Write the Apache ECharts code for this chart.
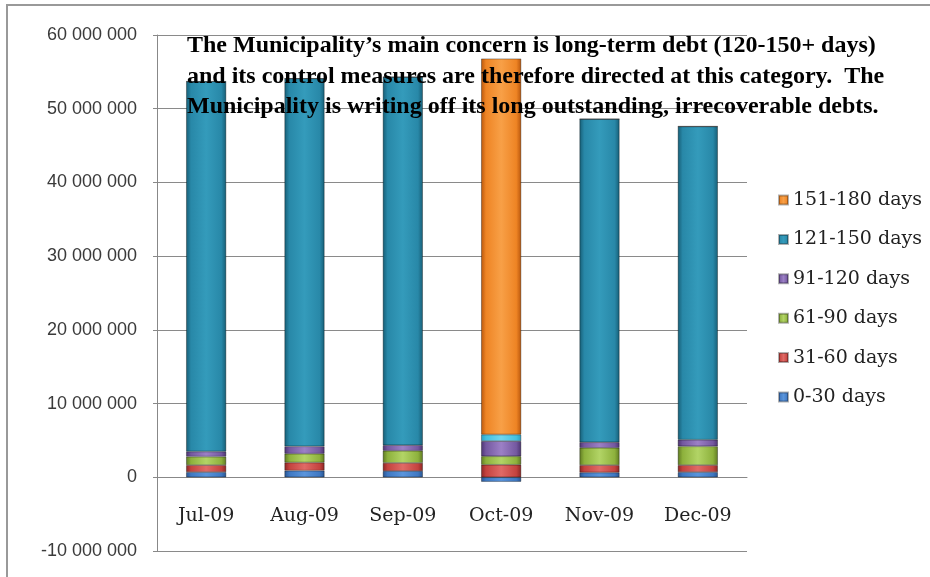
<!DOCTYPE html>
<html>
<head>
<meta charset="utf-8">
<script src="https://cdn.jsdelivr.net/npm/echarts@6/dist/echarts.min.js"></script>
<style>html,body{margin:0;padding:0;background:#fff}#c{width:930px;height:577px}</style>
</head>
<body>
<div id="c"></div>
<script>
var categories = ['Jul-09', 'Aug-09', 'Sep-09', 'Oct-09', 'Nov-09', 'Dec-09'];
var seriesNames = ['0-30 days', '31-60 days', '61-90 days', '91-120 days', '121-150 days', '151-180 days'];
var d0_30    = [700000, 900000, 850000, -600000, 650000, 700000];
var d31_60   = [950000, 1100000, 1100000, 1700000, 1000000, 950000];
var d61_90   = [1150000, 1200000, 1650000, 1150000, 2350000, 2550000];
var d91_120  = [700000, 1000000, 750000, 2050000, 750000, 900000];
var d121_150 = [50200000, 49900000, 49950000, 900000, 43850000, 42500000];
var d151_180 = [0, 0, 0, 51000000, 0, 0];
var yTicks = { min: -10000000, max: 60000000, interval: 10000000 };
var note = ['The Municipality\u2019s main concern is long-term debt (120-150+ days)',
            'and its control measures are therefore directed at this category.  The',
            'Municipality is writing off its long outstanding, irrecoverable debts.'];

function grad(dark, mid, light) {
  return new echarts.graphic.LinearGradient(0, 0, 1, 0, [
    {offset: 0, color: dark}, {offset: 0.12, color: mid}, {offset: 0.5, color: light},
    {offset: 0.88, color: mid}, {offset: 1, color: dark}]);
}
var colors = [
  grad('#2a5590', '#3f78c2', '#5a95dc'),
  grad('#8a2624', '#c4423e', '#e06a66'),
  grad('#5f7a22', '#8db13c', '#b2d466'),
  grad('#4c3470', '#7458a0', '#9c80c6'),
  grad('#175e76', '#2888a8', '#349bbb'),
  grad('#b8560c', '#ee8424', '#f8a047')
];
var legendColors = ['#3f78c2', '#c4423e', '#8db13c', '#7458a0', '#2888a8', '#ee8424'];
var allData = [d0_30, d31_60, d61_90, d91_120, d121_150, d151_180];

var series = seriesNames.map(function (n, i) {
  return {
    name: n, type: 'bar', stack: 'total', barWidth: 40,
    itemStyle: { color: colors[i], borderColor: 'rgba(0,0,0,0.3)', borderWidth: 0.6 },
    data: allData[i].map(function (v, j) {
      if (i === 4 && j === 3) return { value: v, itemStyle: { color: grad('#2a9cc0', '#44c0e0', '#70d6f0') } };
      return v;
    })
  };
});

var chart = echarts.init(document.getElementById('c'));
var option = {
  animation: false,
  color: legendColors,
  grid: { left: 157, right: 183, top: 35, bottom: 26, containLabel: false, outerBoundsMode: 'none' },
  legend: {
    orient: 'vertical', left: 773, top: 185, itemGap: 19.4, itemWidth: 9, itemHeight: 9,
    icon: 'rect',
    data: seriesNames.slice().reverse(),
    textStyle: { fontFamily: 'DejaVu Serif', fontSize: 19, lineHeight: 20, color: '#222' }
  },
  xAxis: {
    type: 'category', data: categories,
    axisLine: { onZero: false, lineStyle: { color: '#888' } },
    offset: 0,
    axisTick: { length: 5, lineStyle: { color: '#888' } },
    axisLabel: { fontFamily: 'DejaVu Serif', fontSize: 19, color: '#222', margin: 29 }
  },
  yAxis: {
    type: 'value', min: yTicks.min, max: yTicks.max, interval: yTicks.interval,
    axisLine: { show: true, lineStyle: { color: '#888' } },
    axisTick: { show: true, length: 4, lineStyle: { color: '#888' } },
    splitLine: { lineStyle: { color: '#8a8a8a' } },
    axisLabel: {
      fontFamily: 'Liberation Sans', fontSize: 18, color: '#3a3a3a', margin: 20,
      formatter: function (v) { return String(v).replace(/\B(?=(\d{3})+(?!\d))/g, ' '); }
    }
  },
  graphic: [
    { type: 'rect', shape: { x: 7, y: 5, width: 940, height: 600 }, style: { fill: 'none', stroke: '#999', lineWidth: 2 }, z: 0 },
    { type: 'text', left: 187, top: 31, z: 100,
      style: { text: note.join('\n'), font: 'bold 24px "Liberation Serif"', fill: '#000', lineHeight: 30.5 } }
  ],
  series: series
};
chart.setOption(option);
var zeroY = chart.convertToPixel({ yAxisIndex: 0 }, 0);
var bottomY = chart.convertToPixel({ yAxisIndex: 0 }, yTicks.min);
chart.setOption({ xAxis: { offset: -(bottomY - zeroY) } });
</script>
</body>
</html>
